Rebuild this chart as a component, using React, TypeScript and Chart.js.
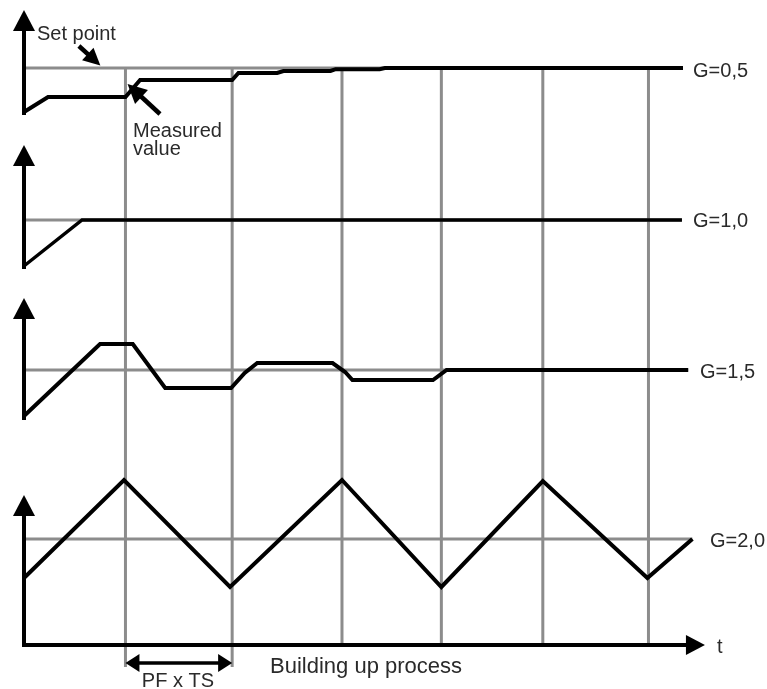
import React, { useEffect, useRef } from "react";
import { Chart, registerables } from "chart.js";

Chart.register(...registerables);

// time positions of the sampling instants (vertical reference lines), in sample periods
const GRID_T = [0.97, 1.99, 3.04, 3.99, 4.96, 5.97];
const GRID_LONG = [true, true, false, false, false, false];

// deviation from set point (measured value) per gain, time in sample periods
const G05_T = [0, 0.23, 0.97, 1.11, 1.99, 2.05, 2.42, 2.48, 2.93, 2.98, 3.4, 3.45, 6.3];
const G05_V = [-4.4, -2.9, -2.9, -1.2, -1.2, -0.5, -0.5, -0.3, -0.3, -0.12, -0.12, 0, 0];

const G10_T = [0, 0.555, 6.29];
const G10_V = [-4.6, 0, 0];

const G15_T = [0, 0.727, 1.04, 1.35, 1.98, 2.11, 2.23, 2.95, 3.07, 3.14, 3.91, 4.04, 6.35];
const G15_V = [-4.6, 2.6, 2.6, -1.8, -1.8, -0.3, 0.7, 0.7, -0.2, -1.0, -1.0, 0, 0];

const G20_T = [0, 0.956, 1.97, 3.04, 3.99, 4.96, 5.96, 6.39];
const G20_V = [-3.9, 5.9, -4.8, 5.9, -4.8, 5.8, -3.9, 0];

const GAIN_LABELS = ["G=0,5", "G=1,0", "G=1,5", "G=2,0"];

// layout (vertical offsets of each panel's set point, axis extents)
const PANEL_BASE = [57.7, 42.5, 27.5, 10.6];
const PANEL_END = [6.3, 6.29, 6.35, 6.39];
const AXIS_TOP = [5.8, 7.5, 7.2, 4.4];
const AXIS_BOTTOM = [-4.5, -4.7, -4.8, -10.6];
const LABEL_X = [6.396, 6.396, 6.463, 6.558];
const LABEL_DY = [-0.9, -0.7, -0.8, -0.8];

const SERIES_T = [G05_T, G10_T, G15_T, G20_T];
const SERIES_V = [G05_V, G10_V, G15_V, G20_V];

const GRID_TOP = 57.7;
const GRID_BOTTOM = 0;
const GRID_BOTTOM_LONG = -2.2;
const X_AXIS_END = 6.51;

const FONT = "'Liberation Sans', Arial, Helvetica, sans-serif";
const GRAY = "#8c8c8c";
const TEXT = "#2a2a2a";

function head(ctx: CanvasRenderingContext2D, x1: number, y1: number, x2: number, y2: number, len: number, wid: number) {
  const a = Math.atan2(y2 - y1, x2 - x1);
  const bx = x2 - len * Math.cos(a);
  const by = y2 - len * Math.sin(a);
  const nx = -Math.sin(a) * wid / 2;
  const ny = Math.cos(a) * wid / 2;
  ctx.beginPath();
  ctx.moveTo(x2, y2);
  ctx.lineTo(bx + nx, by + ny);
  ctx.lineTo(bx - nx, by - ny);
  ctx.closePath();
  ctx.fill();
}

function arrow(ctx: CanvasRenderingContext2D, x1: number, y1: number, x2: number, y2: number, lw: number, len: number, wid: number) {
  const a = Math.atan2(y2 - y1, x2 - x1);
  ctx.lineWidth = lw;
  ctx.beginPath();
  ctx.moveTo(x1, y1);
  ctx.lineTo(x2 - (len * 0.6) * Math.cos(a), y2 - (len * 0.6) * Math.sin(a));
  ctx.stroke();
  head(ctx, x1, y1, x2, y2, len, wid);
}

const decorPlugin = {
  id: "decor",
  afterDatasetsDraw(chart: any) {
    const ctx: CanvasRenderingContext2D = chart.ctx;
    const xs = chart.scales.x;
    const ys = chart.scales.y;
    const px = (t: number) => xs.getPixelForValue(t);
    const py = (v: number) => ys.getPixelForValue(v);
    ctx.save();
    ctx.strokeStyle = "#000";
    ctx.fillStyle = "#000";
    ctx.lineCap = "butt";

    // vertical axes
    for (let i = 0; i < 4; i++) {
      const top = AXIS_TOP[i] + PANEL_BASE[i];
      const bot = AXIS_BOTTOM[i] + PANEL_BASE[i];
      arrow(ctx, px(0), py(bot) + 2, px(0), py(top), 4, 21, 22);
    }
    // time axis
    arrow(ctx, px(0) - 2, py(0), px(X_AXIS_END), py(0), 4, 19, 20);

    // PF x TS double arrow
    const ay = py(-1.8);
    ctx.lineWidth = 3.5;
    ctx.beginPath();
    ctx.moveTo(px(GRID_T[0]) + 8, ay);
    ctx.lineTo(px(GRID_T[1]) - 8, ay);
    ctx.stroke();
    head(ctx, px(GRID_T[1]), ay, px(GRID_T[0]), ay, 14, 18);
    head(ctx, px(GRID_T[0]), ay, px(GRID_T[1]), ay, 14, 18);

    // annotation arrows
    arrow(ctx, px(0.525), py(59.9), px(0.73), py(57.95), 4.5, 17, 17);
    arrow(ctx, px(1.3), py(53.1), px(0.99), py(56.1), 4.5, 19, 19);

    // texts
    ctx.fillStyle = TEXT;
    ctx.textBaseline = "alphabetic";
    ctx.textAlign = "left";
    ctx.font = `20px ${FONT}`;
    ctx.fillText("Set point", px(0.124), py(60.5));
    ctx.fillText("Measured", px(1.042), py(50.8));
    ctx.fillText("value", px(1.042), py(49.0));
    for (let i = 0; i < 4; i++) {
      ctx.fillText(GAIN_LABELS[i], px(LABEL_X[i]), py(PANEL_BASE[i] + LABEL_DY[i]));
    }
    ctx.fillText("t", px(6.625), py(-0.8));
    ctx.textAlign = "center";
    ctx.fillText("PF x TS", px(1.472), py(-4.2));
    ctx.textAlign = "left";
    ctx.font = `22px ${FONT}`;
    ctx.fillText("Building up process", px(2.352), py(-2.8));
    ctx.restore();
  },
};

export default function App() {
  const ref = useRef<HTMLCanvasElement | null>(null);

  useEffect(() => {
    if (!ref.current) return;
    const datasets: any[] = [];
    for (let i = 0; i < 4; i++) {
      const base = PANEL_BASE[i];
      datasets.push({
        data: SERIES_T[i].map((t, k) => ({ x: t, y: base + SERIES_V[i][k] })),
        borderColor: "#000",
        borderWidth: i === 1 ? 3.5 : 4,
        pointRadius: 0,
        tension: 0,
        fill: false,
        borderJoinStyle: "miter",
        order: 0,
      });
      datasets.push({
        data: [
          { x: 0, y: base },
          { x: PANEL_END[i], y: base },
        ],
        borderColor: GRAY,
        borderWidth: 3,
        pointRadius: 0,
        fill: false,
        order: 1,
      });
    }
    GRID_T.forEach((t, k) => {
      datasets.push({
        data: [
          { x: t, y: GRID_TOP },
          { x: t, y: GRID_LONG[k] ? GRID_BOTTOM_LONG : GRID_BOTTOM },
        ],
        borderColor: GRAY,
        borderWidth: 3,
        pointRadius: 0,
        fill: false,
        order: 2,
      });
    });

    const chart = new Chart(ref.current, {
      type: "line",
      data: { datasets },
      options: {
        responsive: false,
        animation: false,
        events: [],
        layout: { padding: 0 },
        plugins: { legend: { display: false }, tooltip: { enabled: false } },
        scales: {
          x: { type: "linear", display: false, min: -24 / 104.6, max: 743 / 104.6 },
          y: { type: "linear", display: false, min: -4.4, max: 64.5 },
        },
      },
      plugins: [decorPlugin],
    });
    return () => chart.destroy();
  }, []);

  return (
    <div style={{ position: "absolute", left: 0, top: 0, width: 767, height: 689, background: "#fff" }}>
      <canvas ref={ref} width={767} height={689} />
    </div>
  );
}
